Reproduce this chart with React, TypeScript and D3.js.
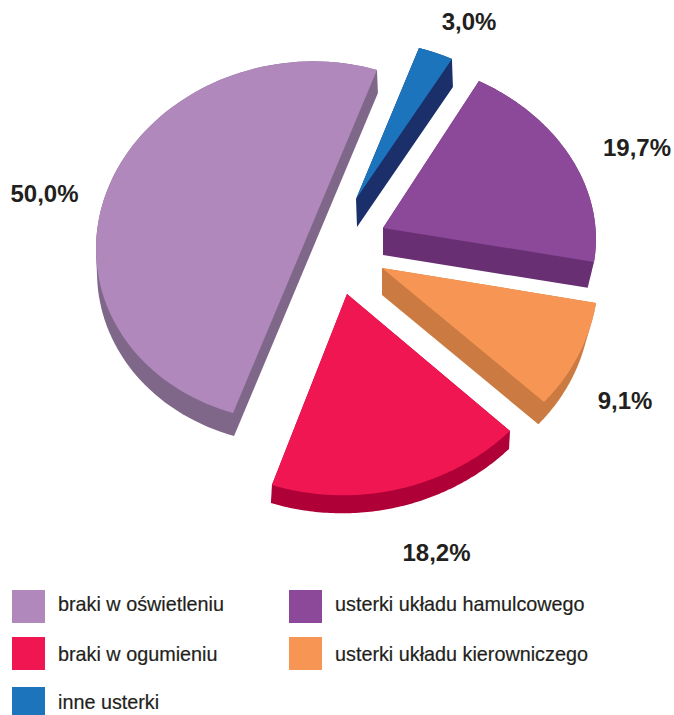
import React from "react";
import * as d3 from "d3";

// ---- data ----
const sliceNames = ["braki w oświetleniu", "inne usterki", "usterki układu hamulcowego", "usterki układu kierowniczego", "braki w ogumieniu"];
const sliceValues = [50.0, 3.0, 19.7, 9.1, 18.2];
const sliceLabels = ["50,0%", "3,0%", "19,7%", "9,1%", "18,2%"];
const faceColors = ["#B088BC", "#1C75BC", "#8C4899", "#F79654", "#EF1651"];
const wallColors = ["#7F678A", "#1B2F6B", "#692F73", "#CB7B42", "#AF0137"];

const legendNames = ["braki w oświetleniu", "braki w ogumieniu", "inne usterki", "usterki układu hamulcowego", "usterki układu kierowniczego"];

// ---- layout: the exploded, perspective-drawn pie ----
const layout = [
  { ax: 305, ay: 241.5, rx: 209, sx: 0.5, sy: -6.9, ry: 180, dx: 1, dy: 23, k: 1, lx: 44.5, ly: 193 },
  { ax: 356, ay: 199, rx: 192.4, sx: -3, sy: -10, ry: 157, dx: 1, dy: 28, k: 1, lx: 469, ly: 21 },
  { ax: 383, ay: 228, rx: 212.4, sx: -14.9, sy: -0.8, ry: 170.7, dx: 0, dy: 27, k: 0.97, lx: 637, ly: 147 },
  { ax: 382, ay: 268, rx: 216.3, sx: -11, sy: -5.1, ry: 196.4, dx: 0, dy: 27, k: 0.965, lx: 625, ly: 400 },
  { ax: 347, ay: 294, rx: 226.1, sx: -2.4, sy: -5.7, ry: 201.2, dx: -1, dy: 18, k: 1, lx: 436.5, ly: 552 },
];

const deg = Math.PI / 180;
const pie = d3.pie<number>().sort(null).startAngle(200 * deg).endAngle(560 * deg);
const arcs = pie(sliceValues);
const line = d3.line().curve(d3.curveLinear);

function facePoints(i: number): [number, number][] {
  const g = layout[i];
  const a = arcs[i];
  const n = 90;
  const angle = d3.scaleLinear().domain([0, n]).range([a.startAngle, a.endAngle]);
  const rim = d3.range(n + 1).map((t): [number, number] => {
    const u = Math.sin(angle(t));
    const w = Math.cos(angle(t));
    return [g.ax + g.rx * u + g.sx * w, g.ay + g.sy * u - g.ry * w];
  });
  return [[g.ax, g.ay], ...rim];
}

function wallHull(i: number): [number, number][] {
  const g = layout[i];
  const top = facePoints(i);
  const bottom = top.map(([x, y]): [number, number] => [
    g.ax + (x - g.ax) * g.k + g.dx,
    g.ay + (y - g.ay) * g.k + g.dy,
  ]);
  return d3.polygonHull([...top, ...bottom]) as [number, number][];
}

const ink = "#231F20";
const legendColor = d3.scaleOrdinal<string, string>().domain(sliceNames).range(faceColors);
const legendPos = [
  { x: 12, y: 590, h: 33 },
  { x: 12, y: 637, h: 33 },
  { x: 12, y: 687, h: 28 },
  { x: 289, y: 590, h: 33 },
  { x: 289, y: 637, h: 33 },
];
const legendBase = [611, 661, 709, 611, 661];

export default function App() {
  return (
    <svg width={674} height={715} viewBox="0 0 674 715" style={{ position: "absolute", left: 0, top: 0, background: "#fff" }}>
      {arcs.map((_, i) => (
        <g key={i}>
          <path d={line(wallHull(i)) + "Z"} fill={wallColors[i]} />
          <path d={line(facePoints(i)) + "Z"} fill={faceColors[i]} />
        </g>
      ))}
      {sliceLabels.map((t, i) => (
        <text key={t} x={layout[i].lx} y={layout[i].ly} dy="0.36em" textAnchor="middle" fontFamily="'Liberation Sans', Arial, sans-serif" fontWeight={700} fontSize={24} fill={ink}>
          {t}
        </text>
      ))}
      {legendNames.map((t, i) => (
        <g key={t}>
          <rect x={legendPos[i].x} y={legendPos[i].y} width={33} height={legendPos[i].h} fill={legendColor(t)} />
          <text x={legendPos[i].x + 46} y={legendBase[i]} fontFamily="'Liberation Sans', Arial, sans-serif" fontSize={19.8} fill={ink} stroke={ink} strokeWidth={0.2}>
            {t}
          </text>
        </g>
      ))}
    </svg>
  );
}
